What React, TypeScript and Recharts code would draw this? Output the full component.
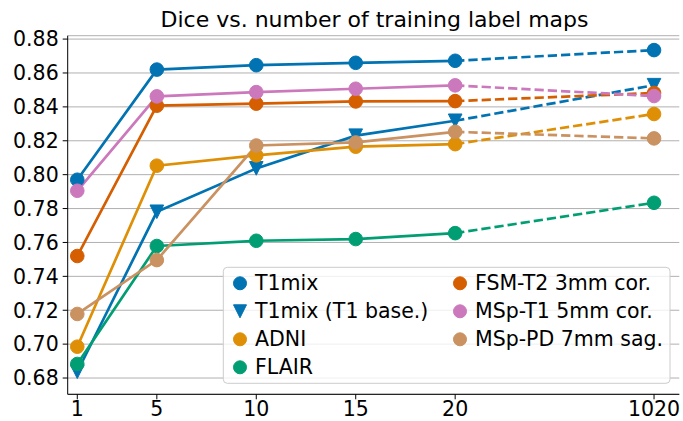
import { CartesianGrid, Line, LineChart, XAxis, YAxis } from "recharts";

const xLabels = ["1", "5", "10", "15", "20", "1020"];
const xPositions = [1, 5, 10, 15, 20, 30];
const yTicks = [0.68, 0.7, 0.72, 0.74, 0.76, 0.78, 0.8, 0.82, 0.84, 0.86, 0.88];

const t1mix = [0.797, 0.862, 0.8646, 0.866, 0.8672, 0.8735];
const t1mixBase = [0.6837, 0.7781, 0.8037, 0.823, 0.8318, 0.8528];
const adni = [0.6985, 0.8053, 0.8114, 0.8165, 0.818, 0.8358];
const flair = [0.6883, 0.7579, 0.761, 0.762, 0.7655, 0.7834];
const fsmT2 = [0.752, 0.8407, 0.8419, 0.8432, 0.8434, 0.8482];
const mspT1 = [0.7905, 0.8462, 0.8487, 0.8507, 0.8527, 0.8464];
const mspPD = [0.7178, 0.7496, 0.8172, 0.819, 0.8253, 0.8214];

const FONT = "DejaVu Sans";
const LW = 2.7;

type Shape = "circle" | "triangle";

const series: { key: string; name: string; color: string; shape: Shape; values: number[] }[] = [
  { key: "t1mix", name: "T1mix", color: "#0173b2", shape: "circle", values: t1mix },
  { key: "t1mixBase", name: "T1mix (T1 base.)", color: "#0173b2", shape: "triangle", values: t1mixBase },
  { key: "adni", name: "ADNI", color: "#de8f05", shape: "circle", values: adni },
  { key: "flair", name: "FLAIR", color: "#029e73", shape: "circle", values: flair },
  { key: "fsmT2", name: "FSM-T2 3mm cor.", color: "#d55e00", shape: "circle", values: fsmT2 },
  { key: "mspT1", name: "MSp-T1 5mm cor.", color: "#cc78bc", shape: "circle", values: mspT1 },
  { key: "mspPD", name: "MSp-PD 7mm sag.", color: "#ca9161", shape: "circle", values: mspPD },
];

// solid part runs 1..20, dashed part 20..1020
const lastSolid = 4;
const data = xPositions.map((x, i) => {
  const row: Record<string, number | null> = { x };
  series.forEach((s) => {
    row[s.key] = i <= lastSolid ? s.values[i] : null;
    row[s.key + "Ext"] = i >= lastSolid ? s.values[i] : null;
  });
  return row;
});

function Marker({ cx, cy, color, shape, r = 6.8 }: { cx: number; cy: number; color: string; shape: Shape; r?: number }) {
  if (shape === "triangle") {
    return (
      <polygon
        points={`${cx},${cy + r} ${cx - r},${cy - r} ${cx + r},${cy - r}`}
        fill={color}
        stroke={color}
        strokeWidth={1}
      />
    );
  }
  return <circle cx={cx} cy={cy} r={r} fill={color} stroke={color} strokeWidth={1} />;
}

const makeDot = (color: string, shape: Shape, onlyLast: boolean) => (props: any) => {
  const { cx, cy, index, value } = props;
  if (value == null || cx == null || cy == null || (onlyLast && index !== xPositions.length - 1)) {
    return <g key={`e-${index}`} />;
  }
  return (
    <g key={`d-${index}`}>
      <Marker cx={cx} cy={cy} color={color} shape={shape} />
    </g>
  );
};

const xTickLabel = (v: number) => xLabels[xPositions.indexOf(v)] ?? String(v);

const legendCols = [series.slice(0, 4), series.slice(4)];

export default function App() {
  return (
    <div style={{ position: "absolute", left: 0, top: 0, width: 683, height: 421, background: "#fff" }}>
      <LineChart width={683} height={421} data={data} margin={{ top: 35.7, right: 3.7, bottom: 1.7, left: 7.7 }}>
        <CartesianGrid vertical={false} stroke="#b0b0b0" strokeWidth={1} />
        <XAxis
          dataKey="x"
          type="number"
          domain={[0.518, 31.27]}
          allowDataOverflow
          ticks={xPositions}
          interval={0}
          tickFormatter={xTickLabel}
          height={25}
          tickSize={5}
          tickMargin={2.5}
          stroke="#000"
          tick={{ fill: "#000", fontSize: 20.5, fontFamily: FONT }}
        />
        <XAxis xAxisId="top" dataKey="x" type="number" domain={[0.518, 31.27]} orientation="top" height={0} tick={false} tickLine={false} stroke="#000" />
        <YAxis
          type="number"
          domain={[0.6704, 0.882]}
          allowDataOverflow
          ticks={yTicks}
          interval={0}
          tickFormatter={(v: number) => v.toFixed(2)}
          width={60}
          tickSize={5}
          tickMargin={4}
          stroke="#000"
          tick={{ fill: "#000", fontSize: 20.5, fontFamily: FONT }}
        />
        <YAxis yAxisId="right" orientation="right" type="number" domain={[0.6704, 0.882]} width={0} tick={false} tickLine={false} stroke="#000" />
        {series.flatMap((s) => [
          <Line
            key={s.key}
            type="linear"
            dataKey={s.key}
            stroke={s.color}
            strokeWidth={LW}
            dot={makeDot(s.color, s.shape, false)}
            activeDot={false}
            isAnimationActive={false}
          />,
          <Line
            key={s.key + "Ext"}
            type="linear"
            dataKey={s.key + "Ext"}
            stroke={s.color}
            strokeWidth={LW}
            strokeDasharray="9.25 4"
            dot={makeDot(s.color, s.shape, true)}
            activeDot={false}
            isAnimationActive={false}
          />,
        ])}
      </LineChart>
      <svg width={683} height={421} style={{ position: "absolute", left: 0, top: 0, pointerEvents: "none" }}>
        <text x={374.5} y={27.3} textAnchor="middle" fontSize={22} fontFamily={FONT} fill="#000">
          Dice vs. number of training label maps
        </text>
        <g transform="translate(223.3,267.3)">
          <rect x={0} y={0} width={446.7} height={116} rx={4} fill="rgba(255,255,255,0.8)" stroke="#cccccc" strokeWidth={1} />
          {legendCols.map((col, ci) =>
            col.map((s, ri) => {
              const mx = ci === 0 ? 16.7 : 236.7;
              const y = 16 + ri * 28;
              return (
                <g key={s.key}>
                  <Marker cx={mx} cy={y} color={s.color} shape={s.shape} r={6.5} />
                  <text x={mx + 15} y={y} dominantBaseline="central" fontSize={20.5} fontFamily={FONT} fill="#000">
                    {s.name}
                  </text>
                </g>
              );
            }),
          )}
        </g>
      </svg>
    </div>
  );
}
